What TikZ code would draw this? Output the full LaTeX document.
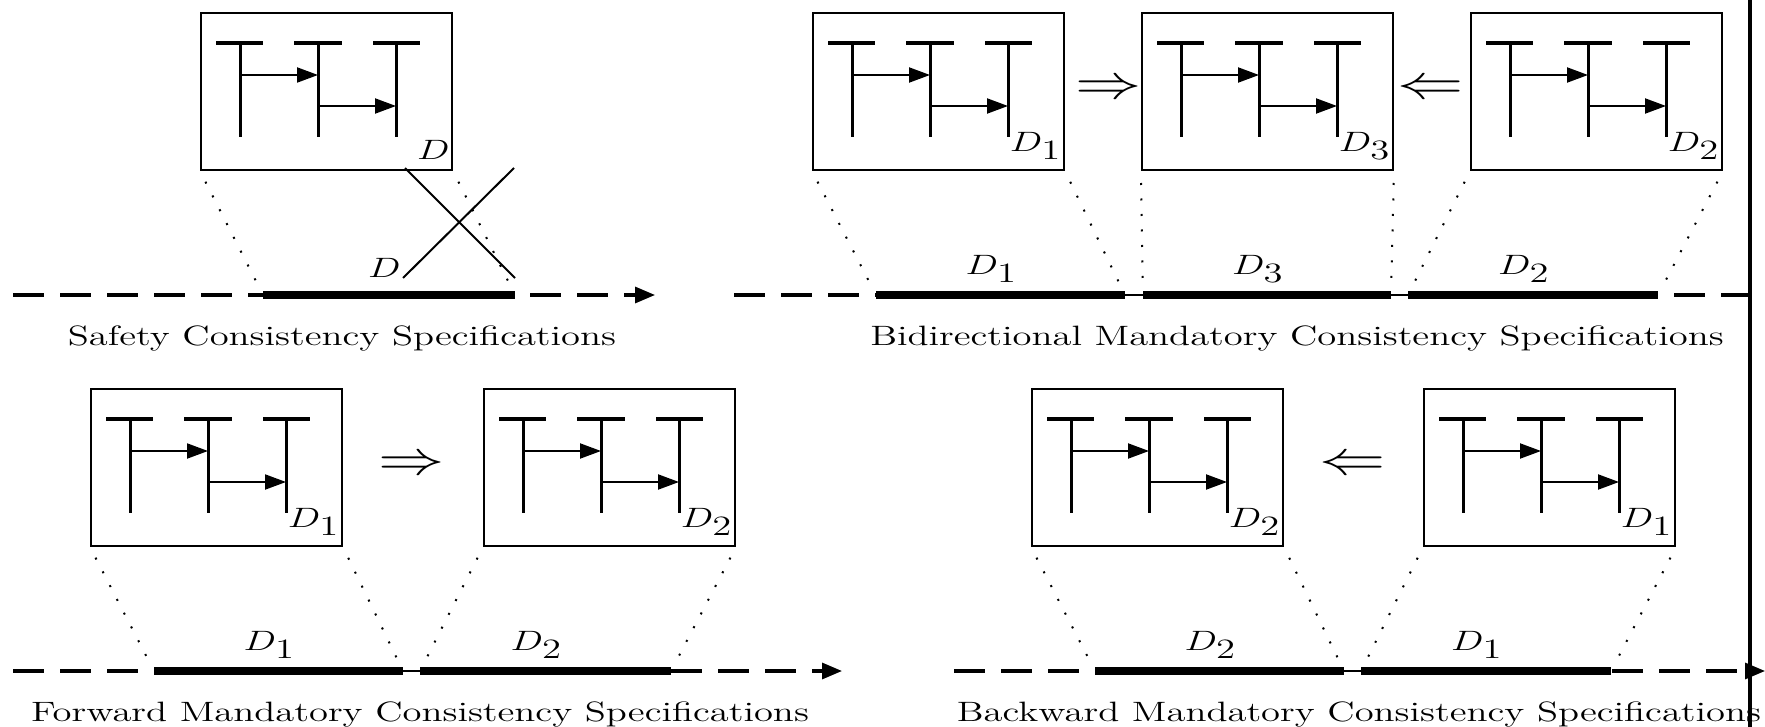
\RequirePackage{fix-cm}
\documentclass[tikz,border=0pt]{standalone}
\usepackage{graphicx}
\usetikzlibrary{arrows.meta,calc}

\newcommand{\stx}[1]{\scalebox{1.38}[1]{\fontsize{14}{16}\selectfont #1}}
\newcommand{\dsub}[1]{\stx{$D_{\textstyle #1}$}}
\newcommand{\dplain}{\stx{$D$}}
\newcommand{\bigRA}{\scalebox{1.38}[1]{\fontsize{24}{28}\selectfont$\Rightarrow$}}
\newcommand{\bigLA}{\scalebox{1.38}[1]{\fontsize{24}{28}\selectfont$\Leftarrow$}}

\tikzset{
  tframe/.style={draw, line width=1pt, minimum width=125.5pt, minimum height=78.5pt, inner sep=0pt},
  tbar/.style={line width=2pt},
  tlife/.style={line width=1.5pt},
  tmsg/.style={line width=1pt, -{Triangle[length=10.5pt,width=7.5pt]}},
  axis/.style={line width=1.6pt, dash pattern=on 15.5pt off 8pt},
  axtip/.style={-{Triangle[length=10pt,width=8pt]}},
  seg/.style={line width=4pt},
  link/.style={line width=1pt},
  proj/.style={line width=1pt, dash pattern=on 1pt off 6.75pt, shorten <=6pt, shorten >=6pt},
  cross/.style={line width=1pt},
  lbl/.style={inner sep=0pt},
  arr/.style={inner sep=0pt},
}

\newcommand{\tbox}[4]{%
  \node[tframe, anchor=north west] (#1) at (#2,#3) {};
  \begin{scope}[shift={(#1.north west)}]
    \draw[tbar] (16,31) -- (63,31);
    \draw[tbar] (94,31) -- (142,31);
    \draw[tbar] (173,31) -- (220,31);
    \draw[tlife] (40,31) -- (40,125);
    \draw[tlife] (118,31) -- (118,125);
    \draw[tlife] (196,31) -- (196,125);
    \draw[tmsg] (40,63) -- (118,63);
    \draw[tmsg] (118,94) -- (196,94);
  \end{scope}
  \node[lbl, anchor=south east] (#1l) at ($(#1.south east)+(-3,-11)$) {#4};
}

\begin{document}
\begin{tikzpicture}[x=0.5pt,y=-0.5pt]
\useasboundingbox (0,0) rectangle (1765,727);

% ---------- Safety ----------
\tbox{sa}{200}{12}{\dplain}
\coordinate (sa0) at (13,295);
\coordinate (sa1) at (655,295);
\coordinate (sas) at (263,295);
\coordinate (sae) at (515,295);
\draw[axis, axtip] (sa0) -- (sa1);
\draw[seg] (sas) -- (sae);
\draw[proj] (sa.south west) -- (sas);
\draw[proj] (sa.south east) -- (sae);
\coordinate (xa) at (405,168);
\coordinate (xb) at (515,278);
\coordinate (xc) at (403,278);
\coordinate (xd) at (514,168);
\draw[cross] (xa) -- (xb);
\draw[cross] (xc) -- (xd);
\node[lbl, anchor=base east] (xl) at ($(xc)+(-2,0)$) {\dplain};
\node[lbl, anchor=base] (ta) at (342,345) {\stx{Safety Consistency Specifications}};

% ---------- Bidirectional ----------
\tbox{b1}{812}{12}{\dsub{1}}
\tbox{b3}{1141}{12}{\dsub{3}}
\tbox{b2}{1470}{12}{\dsub{2}}
\node[arr] (ra1) at (1109,90) {\bigRA};
\node[arr] (la1) at (1431,90) {\bigLA};
\coordinate (bx0) at (734,295);
\coordinate (bx1) at (1750,295);
\coordinate (b1s) at (876,295);
\coordinate (b1e) at (1125,295);
\coordinate (b3s) at (1143,295);
\coordinate (b3e) at (1391,295);
\coordinate (b2s) at (1408,295);
\coordinate (b2e) at (1658,295);
\draw[axis] (bx0) -- (b1s);
\draw[axis, dash phase=15.5pt] (b2e) -- (bx1);
\draw[link] (b1e) -- (b3s);
\draw[link] (b3e) -- (b2s);
\draw[seg] (b1s) -- (b1e);
\draw[seg] (b3s) -- (b3e);
\draw[seg] (b2s) -- (b2e);
\draw[proj] (b1.south west) -- (b1s);
\draw[proj] (b1.south east) -- (b1e);
\draw[proj] (b3.south west) -- (b3s);
\draw[proj] (b3.south east) -- (b3e);
\draw[proj] (b2.south west) -- (b2s);
\draw[proj] (b2.south east) -- (b2e);
\node[lbl, anchor=base] (b1t) at ($(b1s)!0.5!(b1e)+(-9,-21)$) {\dsub{1}};
\node[lbl, anchor=base] (b3t) at ($(b3s)!0.5!(b3e)+(-9,-21)$) {\dsub{3}};
\node[lbl, anchor=base] (b2t) at ($(b2s)!0.5!(b2e)+(-9,-21)$) {\dsub{2}};
\node[lbl, anchor=base] (tb) at (1297,345) {\stx{Bidirectional Mandatory Consistency Specifications}};

% ---------- Forward ----------
\tbox{c1}{90}{388}{\dsub{1}}
\tbox{c2}{483}{388}{\dsub{2}}
\node[arr] (ra2) at (412,466) {\bigRA};
\coordinate (cx0) at (13,671);
\coordinate (cx1) at (842,671);
\coordinate (c1s) at (154,671);
\coordinate (c1e) at (403,671);
\coordinate (c2s) at (420,671);
\coordinate (c2e) at (671,671);
\draw[axis] (cx0) -- (c1s);
\draw[axis, axtip] (c2e) -- (cx1);
\draw[link] (c1e) -- (c2s);
\draw[seg] (c1s) -- (c1e);
\draw[seg] (c2s) -- (c2e);
\draw[proj] (c1.south west) -- (c1s);
\draw[proj] (c1.south east) -- (c1e);
\draw[proj] (c2.south west) -- (c2s);
\draw[proj] (c2.south east) -- (c2e);
\node[lbl, anchor=base] (c1t) at ($(c1s)!0.5!(c1e)+(-9,-21)$) {\dsub{1}};
\node[lbl, anchor=base] (c2t) at ($(c2s)!0.5!(c2e)+(-9,-21)$) {\dsub{2}};
\node[lbl, anchor=base] (tc) at (420,721) {\stx{Forward Mandatory Consistency Specifications}};

% ---------- Backward ----------
\tbox{d2}{1031}{388}{\dsub{2}}
\tbox{d1}{1423}{388}{\dsub{1}}
\node[arr] (la2) at (1353,466) {\bigLA};
\coordinate (dx0) at (954,671);
\coordinate (dx1) at (1765,671);
\coordinate (d2s) at (1095,671);
\coordinate (d2e) at (1344,671);
\coordinate (d1s) at (1361,671);
\coordinate (d1e) at (1611,671);
\draw[axis] (dx0) -- (d2s);
\draw[axis, axtip, dash phase=23pt] (d1e) -- (dx1);
\draw[link] (d2e) -- (d1s);
\draw[seg] (d2s) -- (d2e);
\draw[seg] (d1s) -- (d1e);
\draw[proj] (d2.south west) -- (d2s);
\draw[proj] (d2.south east) -- (d2e);
\draw[proj] (d1.south west) -- (d1s);
\draw[proj] (d1.south east) -- (d1e);
\node[lbl, anchor=base] (d2t) at ($(d2s)!0.5!(d2e)+(-9,-21)$) {\dsub{2}};
\node[lbl, anchor=base] (d1t) at ($(d1s)!0.5!(d1e)+(-9,-21)$) {\dsub{1}};
\node[lbl, anchor=base] (td) at (1359,721) {\stx{Backward Mandatory Consistency Specifications}};

% ---------- separator ----------
\coordinate (vt) at (1750,0);
\coordinate (vb) at (1750,727);
\draw[line width=1.6pt] (vt) -- (vb);
\end{tikzpicture}
\end{document}
